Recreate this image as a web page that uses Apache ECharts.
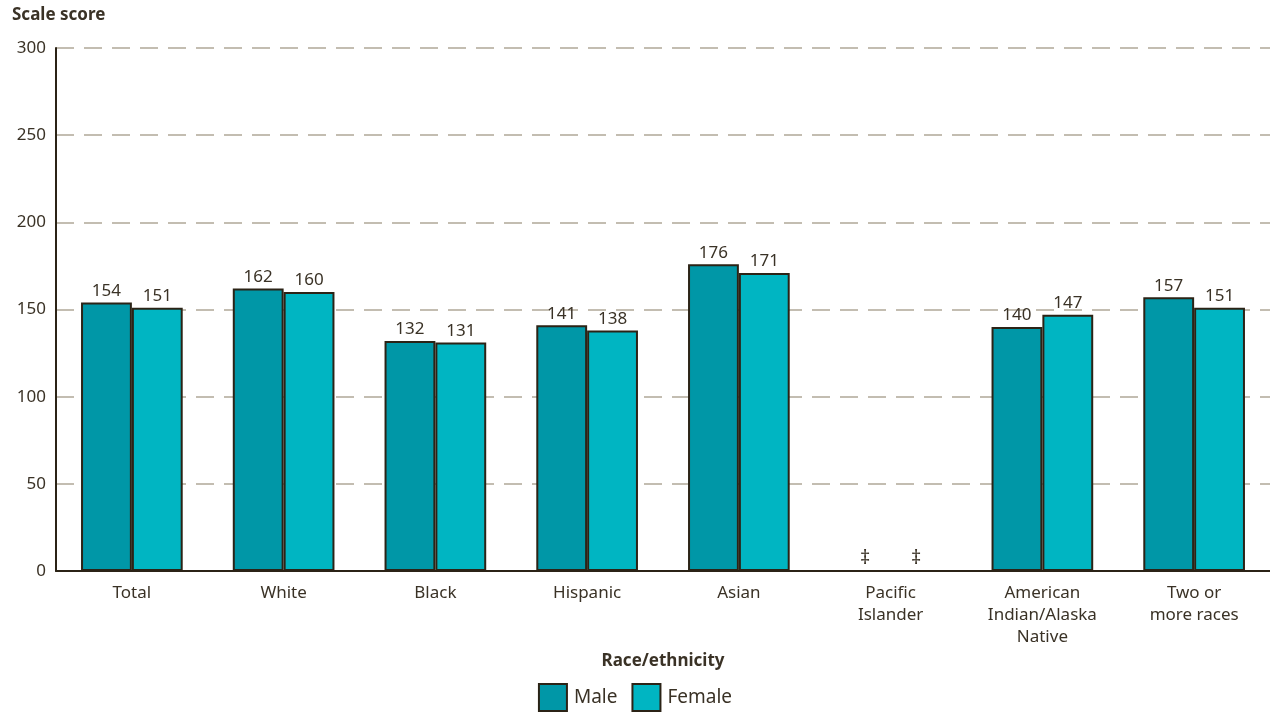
<!DOCTYPE html>
<html><head><meta charset="utf-8">
<script src="https://cdn.jsdelivr.net/npm/echarts@6/dist/echarts.min.js"></script>
<style>html,body{margin:0;padding:0;background:#fff}#c{width:1270px;height:713px}</style>
</head><body><div id="c"></div>
<script>
const categories = ['Total','White','Black','Hispanic','Asian','Pacific\nIslander','American\nIndian/Alaska\nNative','Two or\nmore races'];
const maleValues = [154,162,132,141,176,null,140,157];
const femaleValues = [151,160,131,138,171,null,147,151];
const yTicks = [0,50,100,150,200,250,300];
const suppressedMark = '‡';

const font = '"Noto Sans", "DejaVu Sans", sans-serif';
const textColor = '#3a3226';
const border = '#2b2316';

function toData(arr){
  return arr.map(v => v === null ? {value:0, suppressed:true, itemStyle:{borderWidth:0}} : {value:v});
}
function labelFmt(p){ return p.data.suppressed ? '{s|' + suppressedMark + '}' : String(p.value); }
const labelCfg = {show:true, position:'top', distance:3, fontSize:17, color:textColor, formatter:labelFmt,
  rich:{s:{fontSize:20, color:textColor}}};

const chart = echarts.init(document.getElementById('c'), null, {renderer:'canvas'});
chart.setOption({
  animation:false,
  textStyle:{fontFamily:font},
  grid:{left:56, right:0, top:48, bottom:142},
  graphic:[{type:'text', left:12, top:7, style:{text:'Scale score', font:'bold 17px '+font, fill:textColor}}],
  legend:{bottom:1, left:'center', padding:0, icon:'rect', itemWidth:28, itemHeight:27, itemGap:14,
    textStyle:{fontSize:19, color:textColor, fontFamily:font, padding:[0,0,0,2]},
    data:['Male','Female']},
  xAxis:{type:'category', data:categories,
    name:'Race/ethnicity', nameLocation:'middle', nameGap:70,
    nameTextStyle:{fontWeight:'bold', fontSize:17, color:textColor, fontFamily:font},
    axisLine:{lineStyle:{color:border, width:2}}, axisTick:{show:false},
    axisLabel:{fontSize:17, color:textColor, lineHeight:22, margin:11, interval:0}},
  yAxis:{type:'value', min:yTicks[0], max:yTicks[yTicks.length-1], interval:50,
    axisLine:{show:true, lineStyle:{color:border, width:2}}, axisTick:{show:false},
    axisLabel:{fontSize:17, color:textColor, margin:10},
    splitLine:{lineStyle:{color:'#b0a898', width:1.5, type:[18,10]}}},
  series:[
    {name:'Male', type:'bar', data:toData(maleValues), barGap:0, barCategoryGap:'33%',
     itemStyle:{color:'#0097a7', borderColor:border, borderWidth:2}, label:labelCfg},
    {name:'Female', type:'bar', data:toData(femaleValues),
     itemStyle:{color:'#00b5c2', borderColor:border, borderWidth:2}, label:labelCfg}
  ]
});
</script></body></html>
